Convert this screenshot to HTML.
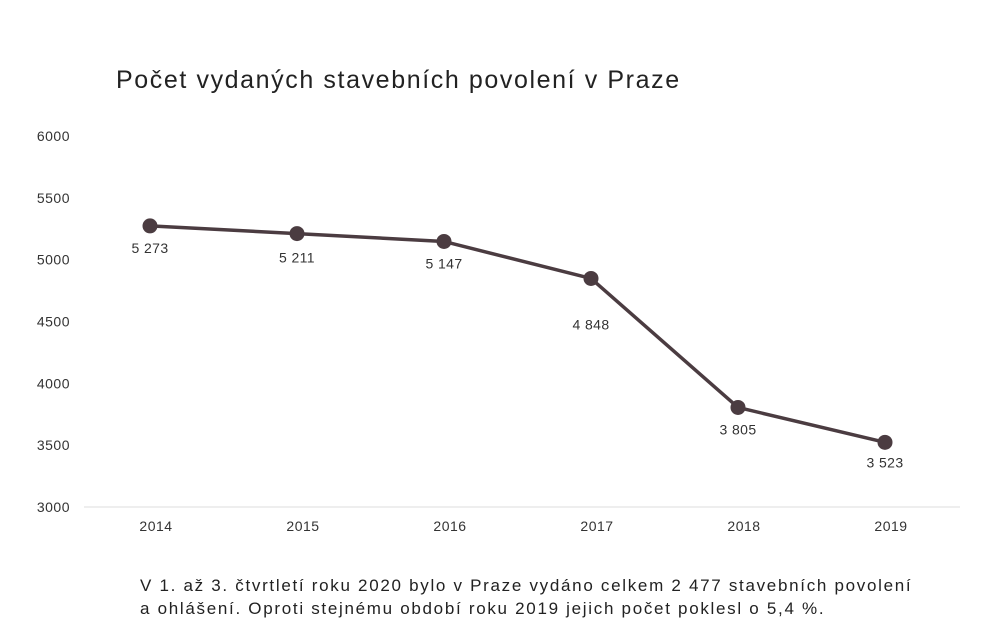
<!DOCTYPE html>
<html><head><meta charset="utf-8"><style>
body{margin:0;background:#fff;width:1000px;height:631px;overflow:hidden;font-family:"Liberation Sans",sans-serif;}
#note{position:absolute;left:140px;top:574px;font-size:17px;color:#222;line-height:23px;letter-spacing:1.7px;white-space:nowrap;}
</style></head><body>
<svg id="chart" width="1000" height="631" style="position:absolute;left:0;top:0">
<text x="116" y="88" font-size="25" fill="#222" letter-spacing="1.6" font-family="Liberation Sans, sans-serif">Počet vydaných stavebních povolení v Praze</text>
<line x1="84" y1="507" x2="960" y2="507" stroke="#ddd" stroke-width="1"/>
<g id="g"></g>
</svg>
<div id="note">V 1. až 3. čtvrtletí roku 2020 bylo v Praze vydáno celkem 2 477 stavebních povolení<br>a ohlášení. Oproti stejnému období roku 2019 jejich počet poklesl o 5,4 %.</div>
<script>
const categories=["2014","2015","2016","2017","2018","2019"];
const values=[5273,5211,5147,4848,3805,3523];
const valueLabels=["5 273","5 211","5 147","4 848","3 805","3 523"];
const yTicks=[3000,3500,4000,4500,5000,5500,6000];
const labelOffsets=[22,24,22,46,22,20];
const NS="http://www.w3.org/2000/svg";
const g=document.getElementById('g');
const y=v=>507-(v-3000)*(371/3000);
const x=i=>150+i*147;
function mk(t,a){const e=document.createElementNS(NS,t);for(const k in a)e.setAttribute(k,a[k]);g.appendChild(e);return e;}
yTicks.forEach(t=>{const e=mk('text',{x:70,y:y(t)+5,'text-anchor':'end','font-size':14,fill:'#333','letter-spacing':0.5});e.textContent=t;

});
categories.forEach((c,i)=>{const e=mk('text',{x:x(i)+6,y:531,'text-anchor':'middle','font-size':14,fill:'#333','letter-spacing':0.5});e.textContent=c;

});
const p=mk('polyline',{points:values.map((v,i)=>x(i)+','+y(v)).join(' '),fill:'none',stroke:'#4b3c41','stroke-width':3.5});


values.forEach((v,i)=>{const c=mk('circle',{cx:x(i),cy:y(v),r:7.5,fill:'#4b3c41'});


const t=mk('text',{x:x(i),y:y(v)+labelOffsets[i]+5,'text-anchor':'middle','font-size':14,fill:'#333','letter-spacing':0.4});t.textContent=valueLabels[i];

});
</script>
</body></html>
